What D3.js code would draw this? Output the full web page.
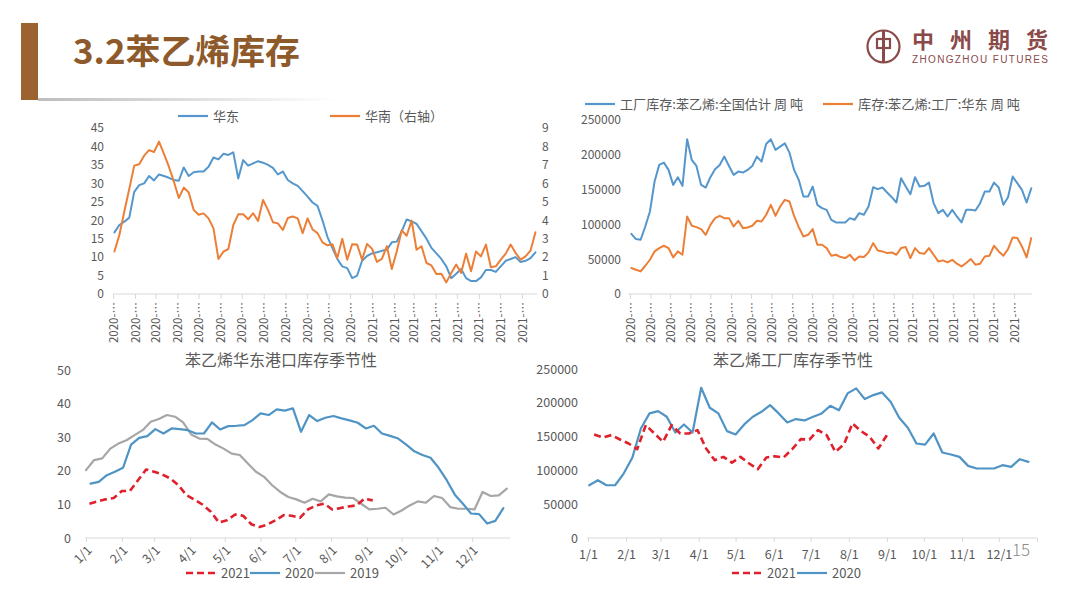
<!DOCTYPE html>
<html><head><meta charset="utf-8">
<script src="https://cdn.jsdelivr.net/npm/d3@7"></script>
<style>
html,body{margin:0;padding:0;background:#fff;}
svg{display:block;font-family:"Noto Sans CJK SC","Noto Sans",sans-serif;}
</style></head><body>
<svg id="c" width="1076" height="596"></svg>
<script>
// ---------- DATA ----------
// Top-left: 华东 (left axis) / 华南 (right axis), weekly from 2020-01-03
const tlEast = [16.7,18.7,19.6,20.7,27.7,29.5,30,32,30.8,32.4,32,31.5,30.9,30.7,34.3,32,33,33.2,33.2,34.5,37,36.5,38,37.7,38.4,31.3,36.3,34.8,35.4,36,35.6,35,34.2,32.4,33.2,30.9,30,29.3,27.9,26.4,24.8,23.9,20,15.5,
  12.5,9.5,7.5,7,4.3,5,9,10.3,11,11.3,11.7,12,14,14.2,17,20.2,19.7,19,17,15,12.5,11,9.5,7.5,4.3,5.5,6.8,4.3,3.5,3.5,4.5,6.5,6.5,6,7.5,9,9.5,10,8.7,9,9.7,11.3];
const tlSouth = [2.3,3.2,4.47,5.7,6.96,7.03,7.5,7.8,7.7,8.26,7.6,6.9,6.1,5.2,5.77,5.5,4.56,4.3,4.37,4.1,3.56,1.9,2.3,2.44,3.74,4.32,4.32,4.05,4.38,3.96,5.1,4.56,3.89,3.83,3.47,4.12,4.2,4.1,3.3,4.1,3.5,3.3,2.8,2.64,2.7,
  1.95,3.0,1.86,2.7,2.68,1.86,2.71,2.46,1.74,1.9,2.59,1.36,2.3,3.45,3.16,3.98,2.4,2.59,1.68,1.55,1.08,1.1,0.63,1.14,1.6,1.14,2.19,1.23,2.3,2.04,2.68,1.45,1.5,1.86,2.19,2.68,2.22,1.86,2.04,2.35,3.35];
const tlLeftTicks = [0,5,10,15,20,25,30,35,40,45];
const tlRightTicks = [0,1,2,3,4,5,6,7,8,9];
const tlLegend = ["华东","华南（右轴）"];

// Top-right: factory inventory, weekly from 2020-01-03
const trNational = [86500,78900,77900,97000,118500,161600,185500,188800,178300,156800,167800,155400,222300,192600,184000,156800,153000,167800,179300,185500,
  197400,184000,171100,175900,174500,178300,184000,197400,190200,215600,222300,207000,211800,216500,203150,178300,164000,140000,140000,154400,
  128100,123300,120900,106600,102800,102800,102800,109000,106600,116200,113800,125700,153400,150600,153000,145800,139100,131500,166300,154400,
  143400,167800,154400,155400,160100,130500,116200,120900,111400,120900,111400,102800,120900,120900,120000,130500,147200,147200,160100,153000,
  128100,139100,168700,159200,149600,131500,152000];
const trEast = [37300,34900,32500,40600,49200,61200,66000,69300,66000,52600,61200,56400,111400,98000,96100,93200,85100,99400,109000,112300,
  109000,109000,97000,105200,94600,95600,98000,105200,104200,113800,128100,112300,125700,135300,132900,112300,96100,82700,85100,93200,
  70700,70700,66000,55000,56400,53100,51600,56400,48300,54000,53100,59750,73100,62600,61200,58800,59750,56400,66000,67400,
  51600,66000,58800,57800,66000,56400,46800,48300,45400,49200,43500,39700,44500,50200,42100,43500,54000,55000,69300,61200,
  55000,64500,81300,80300,68400,52600,80300];
const trTicks = [0,50000,100000,150000,200000,250000];
const trLegend = ["工厂库存:苯乙烯:全国估计 周 吨","库存:苯乙烯:工厂:华东 周 吨"];

// Bottom-left: 华东港口库存季节性 (weekly)
const bl2021 = [10.2,10.9,11.5,11.9,14,14,17.2,20.4,19.7,18.9,17.7,15.7,12.7,11.4,9.9,7.8,4.6,5.3,7,6.6,4.1,3.3,4,5.3,6.8,6.6,6,8.5,9.7,10.2,8.5,8.9,9.4,9.7,11.7,11.2];
const bl2020 = [16.2,16.7,18.7,19.7,20.9,27.8,29.8,30.3,32.4,31.1,32.6,32.4,32.1,31.1,31.1,34.4,32.3,33.3,33.4,33.6,35.1,37.1,36.6,38.3,37.9,38.6,31.6,36.6,34.8,35.8,
  36.3,35.6,35,34.3,32.6,33.4,31.1,30.4,29.6,27.8,25.8,24.7,23.9,20.9,17.2,12.9,10.2,7.3,7.1,4.3,5.1,8.9];
const bl2019 = [20.2,23.2,23.7,26.6,28.1,29.1,30.6,32.1,34.6,35.4,36.6,36.1,34.4,30.8,29.6,29.5,27.8,26.6,25.1,24.7,22.2,19.7,18.2,15.7,13.7,12.2,11.5,10.5,11.7,10.9,
  13,12.4,12,11.9,10.2,8.5,8.7,9,7,8.2,9.7,10.9,10.5,12.5,11.9,9.2,8.7,8.7,8.5,13.7,12.5,12.7,14.7];
const blTicks = [0,10,20,30,40,50];
const blTitle = "苯乙烯华东港口库存季节性";

// Bottom-right: 工厂库存季节性 (weekly)
const br2021 = [153100,148700,152200,145700,139800,131400,167000,154600,142300,167000,154600,154600,159600,132400,115100,120000,111600,120000,110200,101800,
  119100,121000,119100,131400,146200,145700,159600,152200,127500,138300,169400,158100,149700,132400,152200];
const br2020 = [78000,85500,78000,78000,95300,118600,162000,184300,187700,179300,156100,168000,156100,222300,192700,184300,158100,153100,168000,179300,
  186700,196600,184300,171000,175900,173900,179300,184300,195600,189100,213900,221300,205500,211400,215400,201600,177800,163000,139800,138200,
  154600,126500,123500,120000,106700,102800,102800,102800,107700,105200,116600,112600];
const brTicks = [0,50000,100000,150000,200000,250000];
const brTitle = "苯乙烯工厂库存季节性";
const seasonYears = ["2021","2020","2019"];

// ---------- STYLE ----------
const C = {blue:"#5597cc", orange:"#ec7f37", gray:"#a6a6a6", red:"#e0202a", text:"#595959", axis:"#d9d9d9"};
const svg = d3.select("#c");

// ---------- HEADER ----------
const grad = svg.append("defs").append("linearGradient").attr("id","ul");
grad.append("stop").attr("offset","0%").attr("stop-color","#bdbdbd");
grad.append("stop").attr("offset","100%").attr("stop-color","#ffffff");
svg.append("rect").attr("x",38).attr("y",98).attr("width",300).attr("height",3).attr("fill","url(#ul)");
svg.append("rect").attr("x",21).attr("y",23).attr("width",17).attr("height",77).attr("fill","#9c6230");
svg.append("text").attr("x",73).attr("y",64).attr("font-size",34).attr("font-weight","bold")
  .attr("fill","#8e5a2b").attr("textLength",227).attr("lengthAdjust","spacingAndGlyphs").text("3.2苯乙烯库存");

// logo
const logo = svg.append("g").attr("stroke","#8b4a4a").attr("fill","none");
logo.append("circle").attr("cx",883.5).attr("cy",46.5).attr("r",16).attr("stroke-width",2.2);
logo.append("rect").attr("x",877).attr("y",39).attr("width",13).attr("height",9).attr("stroke-width",2.2);
logo.append("line").attr("x1",883.5).attr("x2",883.5).attr("y1",31).attr("y2",62).attr("stroke-width",3);
svg.append("text").attr("x",912).attr("y",47.5).attr("font-size",22).attr("font-weight","bold").attr("fill","#8b4a4a")
  .attr("textLength",136).attr("lengthAdjust","spacing").text("中州期货");
svg.append("text").attr("x",912).attr("y",62.5).attr("font-size",10).attr("fill","#8b4a4a")
  .attr("font-family",'"Liberation Sans",Arial,sans-serif')
  .attr("textLength",136).attr("lengthAdjust","spacing").text("ZHONGZHOU FUTURES");

// ---------- helpers ----------
function styleAxis(g, size){
  g.select(".domain").remove();
  g.selectAll("text").attr("fill",C.text).attr("font-size",size||12).attr("font-family",'"Noto Sans CJK SC",sans-serif');
  g.selectAll("line").attr("stroke",C.axis);
}
function weekly(start, n, step){ return d3.range(n).map(i => d3.timeDay.offset(start, i*(step||7))); }
function drawLine(data, dates, x, y, color, w, dash){
  svg.append("path").datum(data.map((v,i)=>[dates[i],v]))
    .attr("fill","none").attr("stroke",color).attr("stroke-width",w||2)
    .attr("stroke-linejoin","round").attr("stroke-linecap", dash ? "butt" : "round")
    .attr("stroke-dasharray", dash || null)
    .attr("d", d3.line().x(d=>x(d[0])).y(d=>y(d[1])));
}
function legendItem(x, y, color, label, dash, lenText){
  svg.append("line").attr("x1",x).attr("x2",x+30).attr("y1",y).attr("y2",y)
    .attr("stroke",color).attr("stroke-width",dash?2.5:2.2).attr("stroke-dasharray",dash||null);
  const t = svg.append("text").attr("x",x+35).attr("y",y+4.5).attr("font-size",13).attr("fill",C.text).text(label);
  if (lenText) t.attr("textLength",lenText).attr("lengthAdjust","spacingAndGlyphs");
}

// ---------- TOP-LEFT ----------
{
  const dates = weekly(new Date(2020,0,3), tlEast.length);
  const x = d3.scaleTime().domain([new Date(2020,0,1), new Date(2021,7,1)]).range([113,522]);
  const y = d3.scaleLinear().domain([0,45]).range([294,128]);
  const y2 = d3.scaleLinear().domain([0,9]).range([294,128]);
  svg.append("line").attr("x1",x.range()[0]).attr("x2",x(dates[dates.length-1])+2).attr("y1",294).attr("y2",294).attr("stroke",C.axis);
  const gx = svg.append("g").attr("transform","translate(0,294)")
    .call(d3.axisBottom(x).ticks(d3.timeMonth.every(1)).tickSize(5).tickSizeOuter(0).tickFormat(d=>d.getFullYear()+"-…"));
  styleAxis(gx, 11.5);
  gx.selectAll("text").attr("transform","rotate(-90)").attr("text-anchor","end").attr("x",-8).attr("y",0).attr("dy","0.36em");
  const gl = svg.append("g").attr("transform","translate(104,0)").call(d3.axisLeft(y).tickValues(tlLeftTicks).tickSize(0).tickPadding(0));
  styleAxis(gl);
  const gr = svg.append("g").attr("transform","translate(542,0)").call(d3.axisRight(y2).tickValues(tlRightTicks).tickSize(0).tickPadding(0));
  styleAxis(gr);
  drawLine(tlEast, dates, x, y, C.blue);
  drawLine(tlSouth, dates, x, y2, C.orange);
  legendItem(178,116,C.blue,tlLegend[0]);
  legendItem(330,116,C.orange,tlLegend[1]);
}

// ---------- TOP-RIGHT ----------
{
  const dates = weekly(new Date(2020,0,3), trNational.length);
  const x = d3.scaleTime().domain([new Date(2020,0,1), new Date(2021,7,1)]).range([630,1014]);
  const y = d3.scaleLinear().domain([0,250000]).range([294,120]);
  svg.append("line").attr("x1",x.range()[0]-2).attr("x2",x(dates[dates.length-1])+1).attr("y1",294).attr("y2",294).attr("stroke",C.axis);
  const gx = svg.append("g").attr("transform","translate(0,294)")
    .call(d3.axisBottom(x).ticks(d3.timeMonth.every(1)).tickSize(5).tickSizeOuter(0).tickFormat(d=>d.getFullYear()+"-…"));
  styleAxis(gx, 11.5);
  gx.selectAll("text").attr("transform","rotate(-90)").attr("text-anchor","end").attr("x",-8).attr("y",0).attr("dy","0.36em");
  const gl = svg.append("g").attr("transform","translate(621,0)").call(d3.axisLeft(y).tickValues(trTicks).tickSize(0).tickPadding(0).tickFormat(d3.format("d")));
  styleAxis(gl);
  drawLine(trNational, dates, x, y, C.blue);
  drawLine(trEast, dates, x, y, C.orange);
  legendItem(585,104,C.blue,trLegend[0],null,183);
  legendItem(823,104,C.orange,trLegend[1],null,162);
}

// ---------- BOTTOM-LEFT ----------
{
  const x = d3.scaleTime().domain([new Date(2019,0,1), new Date(2020,0,1)]).range([86,508]);
  const y = d3.scaleLinear().domain([0,50]).range([538,370]);
  const d21 = weekly(new Date(2019,0,4), bl2021.length);
  const d20 = weekly(new Date(2019,0,5), bl2020.length);
  const d19 = weekly(new Date(2019,0,1), bl2019.length);
  svg.append("text").attr("x",281).attr("y",366).attr("text-anchor","middle").attr("font-size",16).attr("fill",C.text).text(blTitle);
  svg.append("line").attr("x1",85).attr("x2",510).attr("y1",538).attr("y2",538).attr("stroke",C.axis);
  const gx = svg.append("g").attr("transform","translate(0,538)")
    .call(d3.axisBottom(x).ticks(d3.timeMonth.every(1)).tickSize(4).tickSizeOuter(0).tickFormat(d3.timeFormat("%-m/%-d")));
  styleAxis(gx, 12.5);
  gx.selectAll(".tick").filter(d=>d.getFullYear()>2019).remove();
  gx.selectAll("text").attr("text-anchor","end").attr("x",0).attr("y",0).attr("dy","0.35em")
    .attr("transform","translate(3,10) rotate(-45)");
  const gl = svg.append("g").attr("transform","translate(71,0)").call(d3.axisLeft(y).tickValues(blTicks).tickSize(0).tickPadding(0));
  styleAxis(gl, 12.5);
  drawLine(bl2019, d19, x, y, C.gray, 2.2);
  drawLine(bl2020, d20, x, y, "#4f94c4", 2.2);
  drawLine(bl2021, d21, x, y, C.red, 2.6, "7,4");
  legendItem(186,573,C.red,seasonYears[0],"7,4");
  legendItem(250,573,"#4f94c4",seasonYears[1]);
  legendItem(315,573,C.gray,seasonYears[2]);
}

// ---------- BOTTOM-RIGHT ----------
{
  const x = d3.scaleTime().domain([new Date(2019,0,1), new Date(2020,0,1)]).range([588,1037]);
  const y = d3.scaleLinear().domain([0,250000]).range([538,369]);
  const d21 = weekly(new Date(2019,0,6), br2021.length);
  const d20 = weekly(new Date(2019,0,2), br2020.length);
  svg.append("text").attr("x",793).attr("y",366).attr("text-anchor","middle").attr("font-size",16).attr("fill",C.text).text(brTitle);
  svg.append("line").attr("x1",587).attr("x2",1037).attr("y1",538).attr("y2",538).attr("stroke",C.axis);
  const gx = svg.append("g").attr("transform","translate(0,538)")
    .call(d3.axisBottom(x).ticks(d3.timeMonth.every(1)).tickSize(4).tickPadding(8).tickSizeOuter(0).tickFormat(d3.timeFormat("%-m/%-d")));
  styleAxis(gx, 12.5);
  gx.selectAll(".tick").filter(d=>d.getFullYear()>2019).select("text").remove();
  const gl = svg.append("g").attr("transform","translate(578,0)").call(d3.axisLeft(y).tickValues(brTicks).tickSize(0).tickPadding(0).tickFormat(d3.format("d")));
  styleAxis(gl, 12.5);
  drawLine(br2020, d20, x, y, "#4f94c4", 2.2);
  drawLine(br2021, d21, x, y, C.red, 2.6, "7,4");
  legendItem(732,573,C.red,seasonYears[0],"7,4");
  legendItem(797,573,"#4f94c4",seasonYears[1]);
}

// page number
svg.append("text").attr("x",1012).attr("y",556).attr("font-size",17).attr("fill","#8c8c8c").attr("font-weight",300).text("15");
</script>
</body></html>
